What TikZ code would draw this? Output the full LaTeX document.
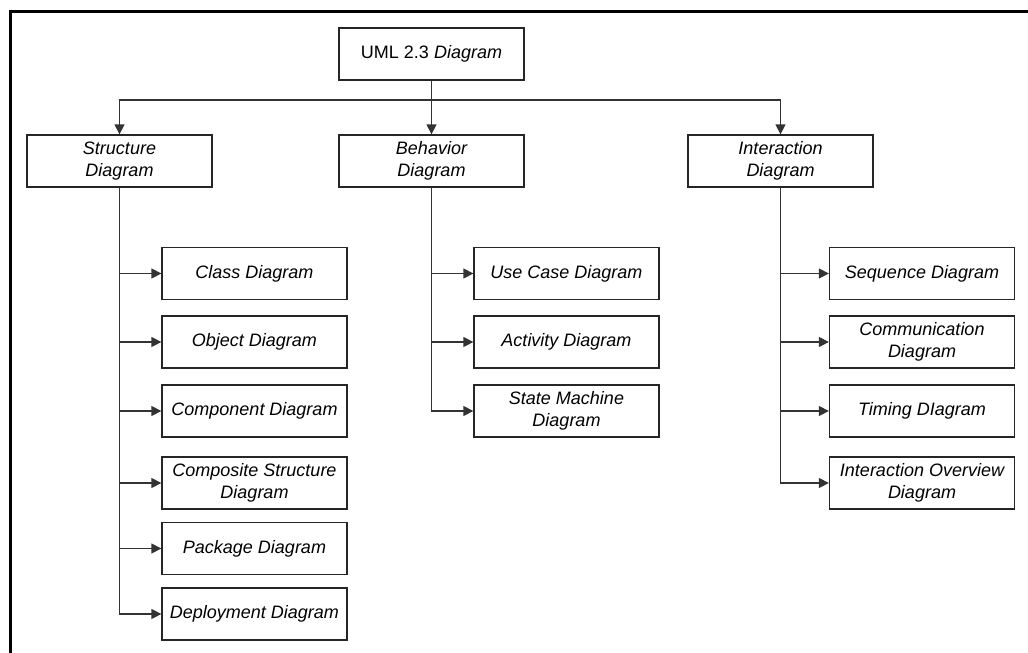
\documentclass[tikz,border=0pt]{standalone}
\usepackage{fontspec}
\setmainfont{Liberation Sans}
\usetikzlibrary{arrows.meta}
\begin{document}
\begin{tikzpicture}[x=1pt,y=-1pt,
  box/.style={draw=black!85, line width=1.3pt, minimum width=185pt, minimum height=52pt, inner sep=0pt, align=center, font=\fontsize{18}{21.5}\selectfont\itshape},
  arr/.style={draw=black!80, line width=1.3pt, -{Triangle[length=10pt,width=10pt]}},
  frame/.style={line width=3pt, black}]
\useasboundingbox (0,0) rectangle (1028,653);
\coordinate (f1) at (10,11);
\coordinate (f2) at (1032,11);
\coordinate (f3) at (10,657);
\draw[frame] (f3) -- (f1) -- (f2);
\node[box] (uml) at (431.5,54) {{\upshape UML 2.3} Diagram};
\node[box] (str) at (119.5,161) {Structure\\Diagram};
\node[box] (beh) at (431.5,161) {Behavior\\Diagram};
\node[box] (int) at (780.5,161) {Interaction\\Diagram};
\coordinate (bus) at (431.5,100);
\draw[arr] (uml.south) -- (beh.north);
\draw[arr] (bus) -| (str.north);
\draw[arr] (bus) -| (int.north);
% structure children
\node[box] (cls) at (254.5,273.5) {Class Diagram};
\node[box] (obj) at (254.5,342) {Object Diagram};
\node[box] (cmp) at (254.5,411) {Component Diagram};
\node[box] (cst) at (254.5,483) {Composite Structure\\Diagram};
\node[box] (pkg) at (254.5,548.5) {Package Diagram};
\node[box] (dep) at (254.5,614) {Deployment Diagram};
\foreach \n in {cls,obj,cmp,cst,pkg,dep} \draw[arr] (str.south) |- (\n.west);
% behavior children
\node[box] (use) at (566.5,273.5) {Use Case Diagram};
\node[box] (act) at (566.5,342) {Activity Diagram};
\node[box] (stm) at (566.5,411) {State Machine\\Diagram};
\foreach \n in {use,act,stm} \draw[arr] (beh.south) |- (\n.west);
% interaction children
\node[box] (seq) at (922,273.5) {Sequence Diagram};
\node[box] (com) at (922,342) {Communication\\Diagram};
\node[box] (tim) at (922,411) {Timing DIagram};
\node[box] (ovr) at (922,483) {Interaction Overview\\Diagram};
\foreach \n in {seq,com,tim,ovr} \draw[arr] (int.south) |- (\n.west);
\end{tikzpicture}
\end{document}
